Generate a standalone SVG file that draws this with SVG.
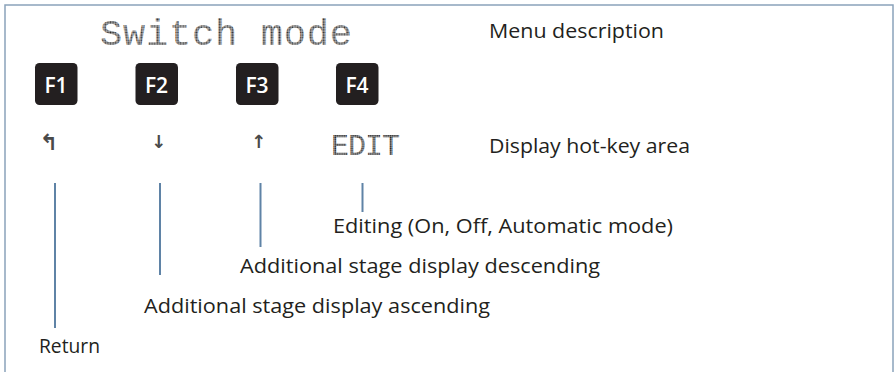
<svg xmlns="http://www.w3.org/2000/svg" width="896" height="372" viewBox="0 0 896 372">
  <defs>
    <pattern id="dots" patternUnits="userSpaceOnUse" width="2.6" height="2.6">
      <rect x="0.3" y="0.3" width="2" height="2" fill="#2a2a2a"/>
    </pattern>
    <pattern id="dots2" patternUnits="userSpaceOnUse" width="2.2" height="2.2">
      <rect x="0.2" y="0.2" width="1.8" height="1.8" fill="#2a2a2a"/>
    </pattern>
  </defs>
  <style>
    .frame { fill: #ffffff; stroke: #8aa3bb; stroke-width: 1.5; }
    .lcd { font-family: "Liberation Mono", "DejaVu Sans Mono", monospace; fill: url(#dots); }
    .lcd2 { font-family: "Liberation Mono", "DejaVu Sans Mono", monospace; fill: url(#dots2); }
    .sym { font-family: "DejaVu Sans", "DejaVu Sans Mono", sans-serif; font-weight: 700; fill: #4a4a4a; text-anchor: middle; }
    .key { fill: #231f20; }
    .keytxt { font-family: "Open Sans", "Liberation Sans", sans-serif; font-weight: 600; font-size: 21px; fill: #ffffff; text-anchor: middle; }
    .lbl { font-family: "Open Sans", "Liberation Sans", sans-serif; font-size: 20px; fill: #231f20; }
    .conn line { stroke: #5f83a6; stroke-width: 2; }
  </style>

  <rect class="frame" x="5" y="5" width="888" height="390"/>

  <g id="menu-title">
    <text class="lcd" x="100" y="45" font-size="37" textLength="252" lengthAdjust="spacing">Switch mode</text>
  </g>
  <g id="menu-description">
    <text class="lbl" x="489" y="38" textLength="175" lengthAdjust="spacingAndGlyphs">Menu description</text>
  </g>

  <g id="key-f1">
    <rect class="key" x="35" y="63" width="42.5" height="42" rx="4.5"/>
    <text class="keytxt" x="56" y="92.5">F1</text>
  </g>
  <g id="key-f2">
    <rect class="key" x="135.5" y="63" width="42.5" height="42" rx="4.5"/>
    <text class="keytxt" x="156.5" y="92.5">F2</text>
  </g>
  <g id="key-f3">
    <rect class="key" x="236" y="63" width="42.5" height="42" rx="4.5"/>
    <text class="keytxt" x="257" y="92.5">F3</text>
  </g>
  <g id="key-f4">
    <rect class="key" x="336" y="63" width="42.5" height="42" rx="4.5"/>
    <text class="keytxt" x="357" y="92.5">F4</text>
  </g>

  <g id="hotkey-return">
    <text class="sym" x="49" y="150" font-size="22">↰</text>
  </g>
  <g id="hotkey-down">
    <text class="sym" x="158.5" y="148" font-size="18">↓</text>
  </g>
  <g id="hotkey-up">
    <text class="sym" x="258.5" y="148" font-size="18">↑</text>
  </g>
  <g id="hotkey-edit">
    <text class="lcd2" x="331" y="155" font-size="30" textLength="69" lengthAdjust="spacing">EDIT</text>
  </g>
  <g id="hotkey-area-label">
    <text class="lbl" x="489" y="153" textLength="201" lengthAdjust="spacingAndGlyphs">Display hot-key area</text>
  </g>

  <g id="connectors" class="conn">
    <line x1="55" y1="183" x2="55" y2="328"/>
    <line x1="160" y1="183" x2="160" y2="275"/>
    <line x1="260.5" y1="183" x2="260.5" y2="247"/>
    <line x1="362.5" y1="183" x2="362.5" y2="212"/>
  </g>

  <g id="label-editing">
    <text class="lbl" x="333" y="233" textLength="340" lengthAdjust="spacingAndGlyphs">Editing (On, Off, Automatic mode)</text>
  </g>
  <g id="label-descending">
    <text class="lbl" x="240" y="273" textLength="360" lengthAdjust="spacingAndGlyphs">Additional stage display descending</text>
  </g>
  <g id="label-ascending">
    <text class="lbl" x="144" y="313" textLength="346" lengthAdjust="spacingAndGlyphs">Additional stage display ascending</text>
  </g>
  <g id="label-return">
    <text class="lbl" x="39" y="353" textLength="61" lengthAdjust="spacingAndGlyphs">Return</text>
  </g>
</svg>
